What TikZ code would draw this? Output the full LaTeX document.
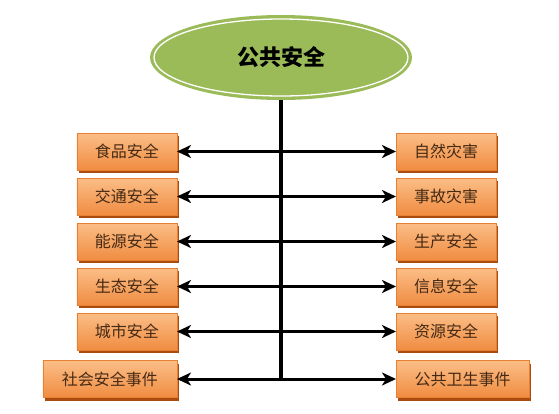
\documentclass[tikz,border=0pt]{standalone}
\usepackage{fontspec}
\newfontfamily\cjk{Noto Sans CJK SC}
\usetikzlibrary{arrows.meta, shapes.geometric, shadows}

\definecolor{topgreen}{RGB}{155,187,89}
\definecolor{boxtop}{RGB}{251,190,135}
\definecolor{boxbot}{RGB}{240,140,65}
\definecolor{boxline}{RGB}{232,128,52}
\definecolor{boxshadow}{RGB}{170,75,15}
\definecolor{boxtext}{RGB}{70,42,20}

\begin{document}
\begin{tikzpicture}[x=1pt, y=-1pt,
    box/.style={draw=boxline, top color=boxtop, bottom color=boxbot, minimum height=37pt, inner sep=0pt,
        text=boxtext, font=\cjk\fontsize{16}{17}\selectfont,
        drop shadow={shadow xshift=2pt, shadow yshift=-3pt, fill=boxshadow, opacity=1}},
    link/.style={<->, >={Stealth[length=14pt, width=13pt, inset=4pt]}, line width=3pt}]
    \useasboundingbox (0,0) rectangle (559,413);

    % top node
    \node[ellipse, fill=topgreen, minimum width=262pt, minimum height=85pt] (top) at (281, 57.5) {};
    \draw[white, line width=1.3pt] (top.center) ellipse [x radius=127, y radius=38.5];
    \node[font=\cjk\bfseries\fontsize{22}{23}\selectfont] (toptext) at (top.center) {公共安全};

    % left boxes
    \node[box, minimum width=100pt, anchor=east] (l1) at (177, 151.5) {食品安全};
    \node[box, minimum width=100pt, anchor=east] (l2) at (177, 196.5) {交通安全};
    \node[box, minimum width=100pt, anchor=east] (l3) at (177, 241.5) {能源安全};
    \node[box, minimum width=100pt, anchor=east] (l4) at (177, 286.5) {生态安全};
    \node[box, minimum width=100pt, anchor=east] (l5) at (177, 331.5) {城市安全};
    \node[box, minimum width=134pt, anchor=east] (l6) at (177, 379) {社会安全事件};

    % right boxes
    \node[box, minimum width=100pt, anchor=west] (r1) at (396, 151.5) {自然灾害};
    \node[box, minimum width=100pt, anchor=west] (r2) at (396, 196.5) {事故灾害};
    \node[box, minimum width=100pt, anchor=west] (r3) at (396, 241.5) {生产安全};
    \node[box, minimum width=100pt, anchor=west] (r4) at (396, 286.5) {信息安全};
    \node[box, minimum width=100pt, anchor=west] (r5) at (396, 331.5) {资源安全};
    \node[box, minimum width=133pt, anchor=west] (r6) at (396, 379) {公共卫生事件};

    % spine and links
    \coordinate (spineend) at ([yshift=-1.5pt]top.south |- l6.east);
    \draw[line width=4.5pt] (top.south) -- (spineend);

    \draw[link] (l1.east) -- (r1.west);
    \draw[link] (l2.east) -- (r2.west);
    \draw[link] (l3.east) -- (r3.west);
    \draw[link] (l4.east) -- (r4.west);
    \draw[link] (l5.east) -- (r5.west);
    \draw[link] (l6.east) -- (r6.west);
\end{tikzpicture}
\end{document}
